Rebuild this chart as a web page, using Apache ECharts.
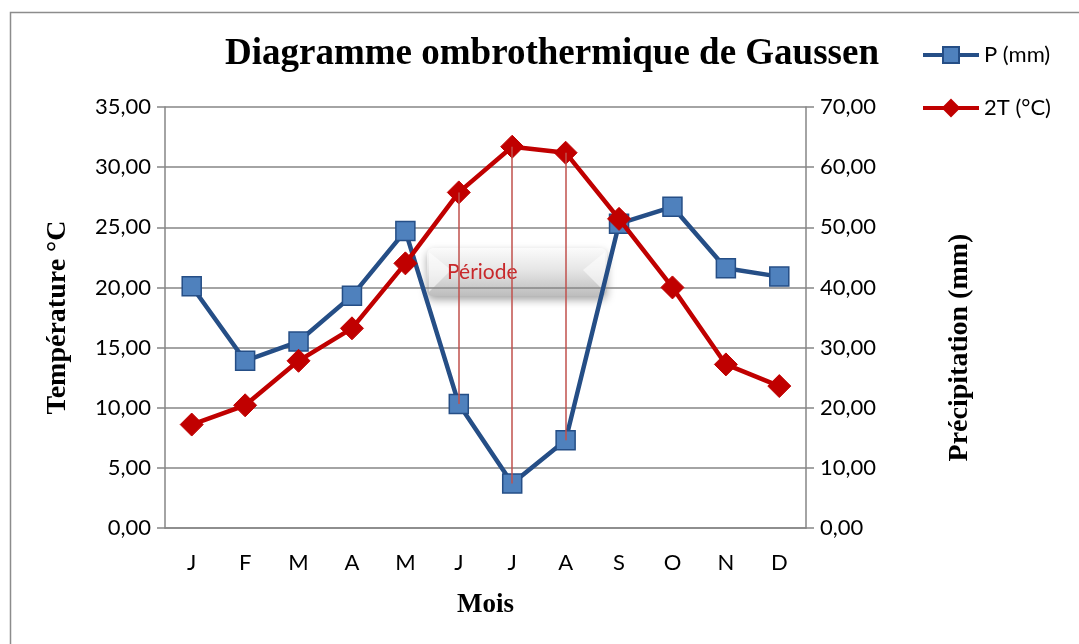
<!DOCTYPE html>
<html>
<head>
<meta charset="utf-8">
<script src="https://cdn.jsdelivr.net/npm/echarts@6/dist/echarts.min.js"></script>
<style>
html,body{margin:0;padding:0;background:#fff;}
#chart{width:1079px;height:644px;}
</style>
</head>
<body>
<div id="chart"></div>
<script>
// mois
var mois = ['J', 'F', 'M', 'A', 'M', 'J', 'J', 'A', 'S', 'O', 'N', 'D'];
// precipitations en mm (axe de droite)
var precip = [40.2, 27.8, 31.0, 38.6, 49.4, 20.6, 7.4, 14.6, 50.6, 53.4, 43.2, 41.8];
// temperatures en °C (axe de gauche, P = 2T)
var temp = [8.6, 10.2, 13.9, 16.6, 22.0, 27.9, 31.7, 31.2, 25.7, 20.0, 13.6, 11.8];
// mois de la periode seche
var secIdx = [5, 6, 7];

var grisAxe = '#868686';
var police = 'Lato, "Open Sans", sans-serif';
var serif = '"Liberation Serif", "DejaVu Serif", serif';

function virgule(v){
	return v.toFixed(2).replace('.', ',');
}

var lignesSec = secIdx.map(function(i){
	return [
		{coord: [i, temp[i]]},
		{coord: [i, precip[i] / 2]}
	];
});

var myChart = echarts.init(document.getElementById('chart'));
myChart.setOption({
	animation: false,
	title: {
		text: 'Diagramme ombrothermique de Gaussen',
		left: 547, top: 31, textAlign: 'center',
		textStyle: {fontFamily: serif, fontWeight: 'bold', fontSize: 37, color: '#000'}
	},
	legend: {
		orient: 'vertical', left: 916, top: 39,
		itemWidth: 56, itemHeight: 20, itemGap: 31,
		textStyle: {fontFamily: police, fontSize: 22, color: '#000'},
		lineStyle: {width: 4},
		data: ['P (mm)', '2T (°C)']
	},
	grid: {left: 165, right: 273, top: 107, bottom: 116},
	xAxis: {
		type: 'category', data: mois,
		name: 'Mois', nameLocation: 'middle', nameGap: 64,
		nameTextStyle: {fontFamily: serif, fontWeight: 'bold', fontSize: 27, color: '#000'},
		axisLine: {lineStyle: {color: grisAxe, width: 1.5}},
		axisTick: {show: false},
		axisLabel: {fontFamily: police, fontSize: 22, color: '#000', margin: 24}
	},
	yAxis: [{
		type: 'value', min: 0, max: 35, interval: 5,
		name: 'Température °C', nameLocation: 'middle', nameGap: 93, nameRotate: 90,
		nameTextStyle: {fontFamily: serif, fontWeight: 'bold', fontSize: 28, color: '#000'},
		axisLine: {show: true, lineStyle: {color: grisAxe, width: 1.5}},
		axisTick: {show: true, length: 8, lineStyle: {color: grisAxe, width: 1.5}},
		axisLabel: {fontFamily: police, fontSize: 22, color: '#000', margin: 14, formatter: virgule},
		splitLine: {lineStyle: {color: grisAxe, width: 1.5}}
	}, {
		type: 'value', min: 0, max: 70, interval: 10,
		name: 'Précipitation (mm)', nameLocation: 'middle', nameGap: 140, nameRotate: 90,
		nameTextStyle: {fontFamily: serif, fontWeight: 'bold', fontSize: 28, color: '#000', padding: [0, 60, 0, 0]},
		axisLine: {show: true, lineStyle: {color: grisAxe, width: 1.5}},
		axisTick: {show: true, length: 8, lineStyle: {color: grisAxe, width: 1.5}},
		axisLabel: {fontFamily: police, fontSize: 22, color: '#000', margin: 14, formatter: virgule},
		splitLine: {show: false}
	}],
	series: [{
		name: 'P (mm)', type: 'line', yAxisIndex: 1, data: precip,
		symbol: 'rect', symbolSize: 19,
		lineStyle: {color: '#254E86', width: 4.5},
		itemStyle: {color: '#4F81BD', borderColor: '#254E86', borderWidth: 1.5},
		z: 3
	}, {
		name: '2T (°C)', type: 'line', yAxisIndex: 0, data: temp,
		symbol: 'diamond', symbolSize: [23, 23],
		lineStyle: {color: '#C00000', width: 4.5},
		itemStyle: {color: '#C00000', borderColor: '#C00000', borderWidth: 1},
		z: 4,
		markLine: {
			silent: true, symbol: 'none', label: {show: false},
			lineStyle: {color: '#C0504D', width: 1.5, type: 'solid'},
			data: lignesSec
		}
	}],
	graphic: [{
		type: 'rect', left: 8, top: 10, z: -10,
		shape: {width: 1090, height: 650},
		style: {fill: 'none', stroke: '#8c8c8c', lineWidth: 1.5}
	}, {
		type: 'group', left: 427, top: 248, z: 50,
		children: [{
			type: 'rect',
			shape: {x: 0, y: 0, width: 180, height: 48, r: 6},
			style: {
				fill: new echarts.graphic.LinearGradient(0, 0, 0, 1, [
					{offset: 0, color: '#fbfbfb'},
					{offset: 0.45, color: '#e6e6e6'},
					{offset: 1, color: '#bdbdbd'}
				]),
				shadowBlur: 8, shadowOffsetY: 4, shadowColor: 'rgba(0,0,0,0.35)'
			}
		}, {
			type: 'polygon',
			shape: {points: [[2, 4], [24, 22], [2, 44]]},
			style: {fill: 'rgba(255,255,255,0.55)'}
		}, {
			type: 'polygon',
			shape: {points: [[178, 4], [156, 22], [178, 44]]},
			style: {fill: 'rgba(255,255,255,0.55)'}
		}, {
			type: 'text', x: 20, y: 14,
			style: {text: 'Période', fill: '#C8282B', font: '21px Lato, "Open Sans", sans-serif'}
		}]
	}]
});
</script>
</body>
</html>
